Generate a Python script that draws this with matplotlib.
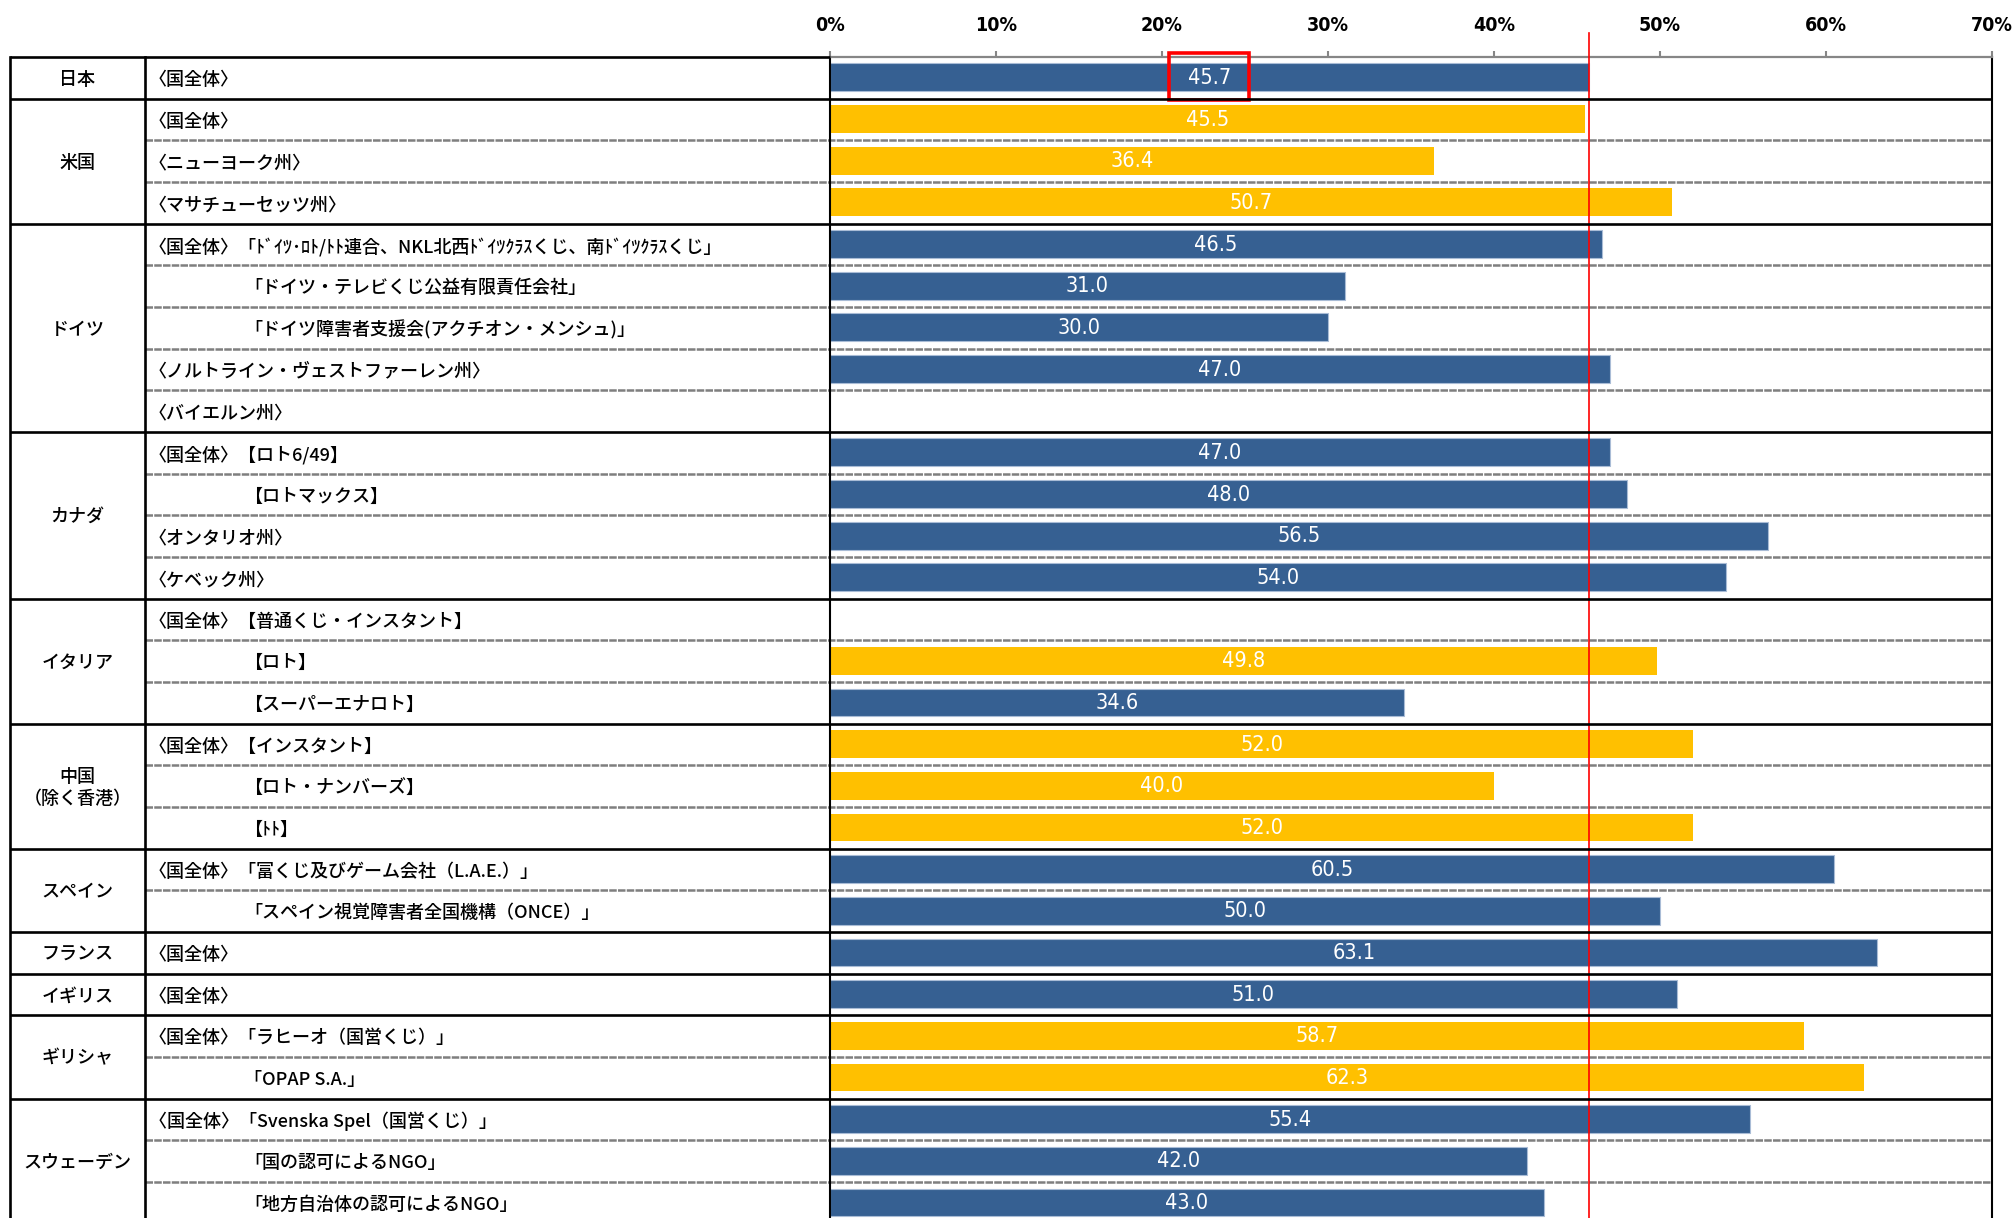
import matplotlib.pyplot as plt
import matplotlib.transforms as mtransforms
from matplotlib.patches import Rectangle
import numpy as np

plt.rcParams['font.family'] = ['Noto Sans CJK JP', 'DejaVu Sans']

countries = ["日本", "米国", "ドイツ", "カナダ", "イタリア", "中国\n（除く香港）",
             "スペイン", "フランス", "イギリス", "ギリシャ", "スウェーデン"]
rows_per_country = [1, 3, 5, 4, 3, 3, 2, 1, 1, 2, 3]

row_labels = [
    "〈国全体〉",
    "〈国全体〉",
    "〈ニューヨーク州〉",
    "〈マサチューセッツ州〉",
    "〈国全体〉「ﾄﾞｲﾂ･ﾛﾄ/ﾄﾄ連合、NKL北西ﾄﾞｲﾂｸﾗｽくじ、南ﾄﾞｲﾂｸﾗｽくじ」",
    "「ドイツ・テレビくじ公益有限責任会社」",
    "「ドイツ障害者支援会(アクチオン・メンシュ)」",
    "〈ノルトライン・ヴェストファーレン州〉",
    "〈バイエルン州〉",
    "〈国全体〉【ロト6/49】",
    "【ロトマックス】",
    "〈オンタリオ州〉",
    "〈ケベック州〉",
    "〈国全体〉【普通くじ・インスタント】",
    "【ロト】",
    "【スーパーエナロト】",
    "〈国全体〉【インスタント】",
    "【ロト・ナンバーズ】",
    "【ﾄﾄ】",
    "〈国全体〉「富くじ及びゲーム会社（L.A.E.）」",
    "「スペイン視覚障害者全国機構（ONCE）」",
    "〈国全体〉",
    "〈国全体〉",
    "〈国全体〉「ラヒーオ（国営くじ）」",
    "「OPAP S.A.」",
    "〈国全体〉「Svenska Spel（国営くじ）」",
    "「国の認可によるNGO」",
    "「地方自治体の認可によるNGO」",
]

values = [45.7,
          45.5, 36.4, 50.7,
          46.5, 31.0, 30.0, 47.0, None,
          47.0, 48.0, 56.5, 54.0,
          None, 49.8, 34.6,
          52.0, 40.0, 52.0,
          60.5, 50.0,
          63.1,
          51.0,
          58.7, 62.3,
          55.4, 42.0, 43.0]

# "b" = blue bar, "y" = yellow bar
kind = ["b",
        "y", "y", "y",
        "b", "b", "b", "b", "b",
        "b", "b", "b", "b",
        "b", "y", "b",
        "y", "y", "y",
        "b", "b",
        "b",
        "b",
        "y", "y",
        "b", "b", "b"]

ticks = [0, 10, 20, 30, 40, 50, 60, 70]

W, H = 2015, 1218
n = len(row_labels)
top_px, row_px = 57, 41.67
bottom_px = top_px + n * row_px
x_left, x_col, x_chart, x_right = 10, 145, 830, 1992

fig = plt.figure(figsize=(W / 100, H / 100), dpi=100)
ax = fig.add_axes([x_chart / W, (H - bottom_px) / H,
                   (x_right - x_chart) / W, (bottom_px - top_px) / H])
ax.set_xlim(0, 70)
ax.set_ylim(n, 0)

colors = {"b": "#366092", "y": "#FFC000"}
narrow = ['DejaVu Sans']

for i, v in enumerate(values):
    if v is None:
        continue
    edge = "#a9bcd6" if kind[i] == "b" else "none"
    ax.barh(i + 0.49, v, height=0.67, color=colors[kind[i]],
            edgecolor=edge, linewidth=0.8, zorder=2)
    ax.text(v / 2, i + 0.5, f"{v:.1f}", color="white", ha="center",
            va="center", fontsize=15.5, family=narrow, stretch="condensed",
            zorder=3)

# reference line at Japan's value
ax.axvline(values[0], ymin=0, ymax=1 + (top_px - 33) / (bottom_px - top_px),
           color="red", lw=1.2, clip_on=False, zorder=4)
ax.add_patch(Rectangle((values[0] / 2 - 2.4, -0.1), 4.8, 1.13, fill=False,
                       edgecolor="red", lw=2.6, clip_on=False, zorder=5))

ax.xaxis.set_ticks_position("top")
ax.set_xticks(ticks)
ax.set_xticklabels([f"{t}%" for t in ticks], family=narrow,
                   fontweight="bold", stretch="condensed")
ax.tick_params(axis="x", direction="out", length=4, width=1.5,
               color="#868686", pad=12, labelsize=14)
ax.set_yticks([])
ax.spines["top"].set_color("#868686")
ax.spines["top"].set_linewidth(1.6)
ax.spines["bottom"].set_visible(False)
ax.spines["left"].set_linewidth(1.5)
ax.spines["right"].set_linewidth(1.5)

blend = mtransforms.blended_transform_factory(fig.transFigure, ax.transData)

# table grid
group_starts = np.cumsum([0] + rows_per_country[:-1])
for g in group_starts:
    x0 = x_left
    x1 = x_chart if g == 0 else x_right
    ax.plot([x0 / W, x1 / W], [g, g], transform=blend, color="black",
            lw=1.9, clip_on=False, zorder=6, solid_capstyle="butt")
for g, cnt in zip(group_starts, rows_per_country):
    for k in range(1, cnt):
        y = g + k
        ax.plot([x_col / W, x_right / W], [y, y], transform=blend,
                color="#7f7f7f", lw=1.8, ls=(0, (3, 0.5)),
                clip_on=False, zorder=1)
for xv in (x_left, x_col):
    ax.plot([xv / W, xv / W], [0, n], transform=blend, color="black",
            lw=1.9, clip_on=False, zorder=6)

# country names
for name, g, cnt in zip(countries, group_starts, rows_per_country):
    ax.text((x_left + x_col) / 2 / W, g + cnt / 2 + 0.04, name,
            transform=blend, ha="center", va="center", fontsize=13,
            fontweight="medium", linespacing=1.3)

# row labels
for i, lab in enumerate(row_labels):
    x = 149 if lab.startswith("〈") else 244
    ax.text(x / W, i + 0.55, lab, transform=blend, ha="left",
            va="center", fontsize=13, fontweight="medium")

fig.savefig("out.png", dpi=100)
